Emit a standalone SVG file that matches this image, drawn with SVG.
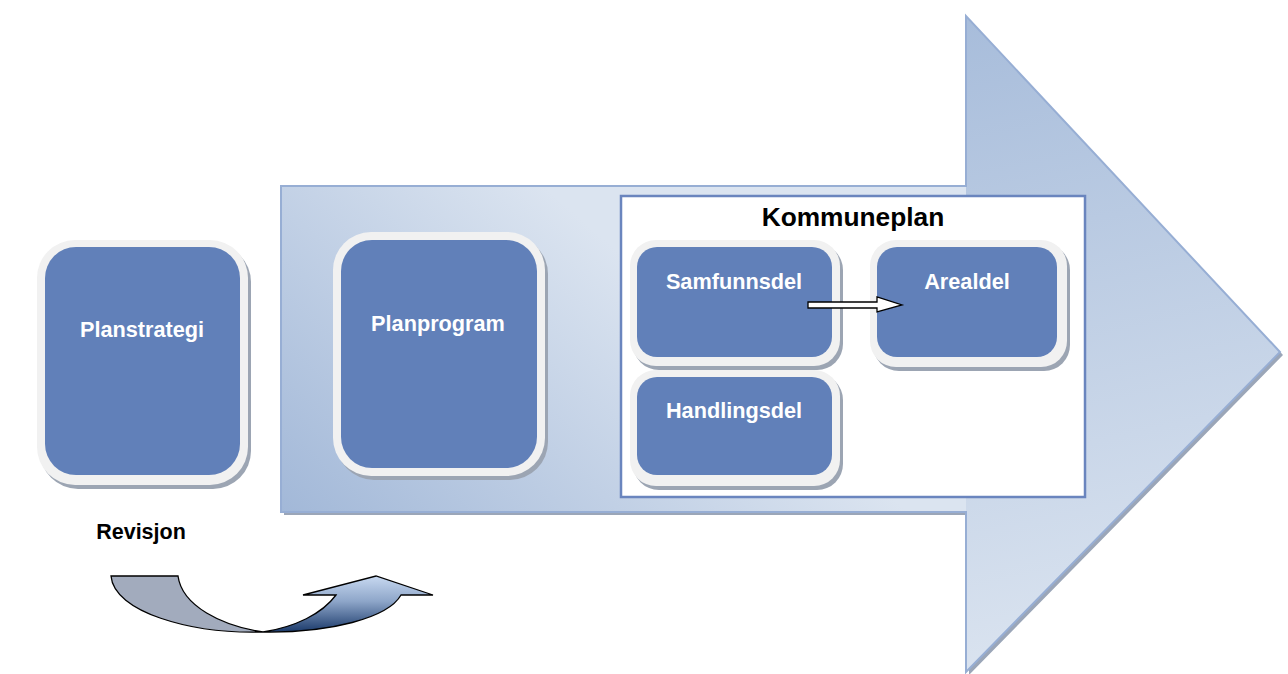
<svg xmlns="http://www.w3.org/2000/svg" width="1288" height="674" viewBox="0 0 1288 674">
<defs>
<linearGradient id="gShaft" gradientUnits="userSpaceOnUse" x1="281" y1="512" x2="560" y2="200">
<stop offset="0" stop-color="#a2b8d8"/>
<stop offset="1" stop-color="#dbe4f0"/>
</linearGradient>
<linearGradient id="gHead" gradientUnits="userSpaceOnUse" x1="980" y1="20" x2="1120" y2="660">
<stop offset="0" stop-color="#a8bddb"/>
<stop offset="1" stop-color="#dbe4f0"/>
</linearGradient>
<linearGradient id="gCurve" x1="0" y1="0" x2="0" y2="1">
<stop offset="0" stop-color="#c8d9f1"/>
<stop offset="0.45" stop-color="#8ea6c9"/>
<stop offset="1" stop-color="#1b3a6b"/>
</linearGradient>
<clipPath id="headClip"><rect x="966" y="0" width="330" height="674"/></clipPath>
</defs>
<style>
.shadow{fill:#9ca5b3}
.outer{fill:#f1f1f1}
.inner{fill:#6180b9}
.lbl{font-family:"Liberation Sans",Arial,sans-serif;font-weight:bold;font-size:21.7px;fill:#ffffff;text-anchor:middle}
.blk{font-family:"Liberation Sans",Arial,sans-serif;font-weight:bold;fill:#000000;text-anchor:middle}
</style>
<rect width="1288" height="674" fill="#ffffff"/>

<g id="big-arrow">
<path d="M284,189 L969,189 L969,19 L1283,355 L969,675 L969,515 L284,515 Z" fill="#9ba6b8"/>
<path d="M281,186 L966,186 L966,16 L1280,352 L966,672 L966,512 L281,512 Z" fill="url(#gShaft)"/>
<path d="M281,186 L966,186 L966,16 L1280,352 L966,672 L966,512 L281,512 Z" fill="url(#gHead)" clip-path="url(#headClip)"/>
<path d="M281,186 L966,186 L966,16 L1280,352 L966,672 L966,512 L281,512 Z" fill="none" stroke="#97aed4" stroke-width="2"/>
</g>

<g id="kommuneplan">
<rect x="621" y="196" width="464" height="301" fill="#ffffff" stroke="#6a85be" stroke-width="2.5"/>
<text class="blk" x="853" y="226" font-size="26.3">Kommuneplan</text>
</g>

<g id="planstrategi">
<rect class="shadow" x="40" y="244" width="211" height="245" rx="38"/>
<rect class="outer" x="37" y="240" width="211" height="245" rx="38"/>
<rect class="inner" x="45" y="247" width="195" height="228" rx="31"/>
<text class="lbl" x="142" y="337">Planstrategi</text>
</g>

<g id="planprogram">
<rect class="shadow" x="336" y="236" width="212" height="244" rx="38"/>
<rect class="outer" x="333" y="232" width="212" height="244" rx="38"/>
<rect class="inner" x="341" y="240" width="196" height="228" rx="31"/>
<text class="lbl" x="438" y="331">Planprogram</text>
</g>

<g id="samfunnsdel">
<rect class="shadow" x="633" y="244" width="210" height="126" rx="26"/>
<rect class="outer" x="630" y="240" width="210" height="126" rx="26"/>
<rect class="inner" x="637" y="247" width="195" height="110" rx="20"/>
<text class="lbl" x="734" y="289">Samfunnsdel</text>
</g>

<g id="arealdel">
<rect class="shadow" x="873" y="244" width="197" height="127" rx="26"/>
<rect class="outer" x="870" y="240" width="197" height="127" rx="26"/>
<rect class="inner" x="877" y="247" width="180" height="110" rx="20"/>
<text class="lbl" x="967" y="289">Arealdel</text>
</g>

<g id="handlingsdel">
<rect class="shadow" x="633" y="374" width="210" height="116" rx="26"/>
<rect class="outer" x="630" y="370" width="210" height="116" rx="26"/>
<rect class="inner" x="637" y="377" width="195" height="98" rx="20"/>
<text class="lbl" x="734" y="418">Handlingsdel</text>
</g>

<g id="connectors">
<path d="M808,302 L877,302 L877,297 L902,305 L877,312 L877,308 L808,308 Z" fill="#ffffff" stroke="#000000" stroke-width="1.3" stroke-linejoin="miter"/>
</g>

<g id="revisjon">
<text class="blk" x="141" y="539" font-size="21.5">Revisjon</text>
<path d="M111,576 L178,576 C182,606 222,626 263,632 C190,634 114,612 111,576 Z" fill="#a2abbd" stroke="#000000" stroke-width="1.3"/>
<path d="M263,632 C330,633 388,618 401,595 L433,595 L376,576 L303,595 L336,595 C322,614 295,627 263,632 Z" fill="url(#gCurve)" stroke="#000000" stroke-width="1.3"/>
</g>
</svg>
